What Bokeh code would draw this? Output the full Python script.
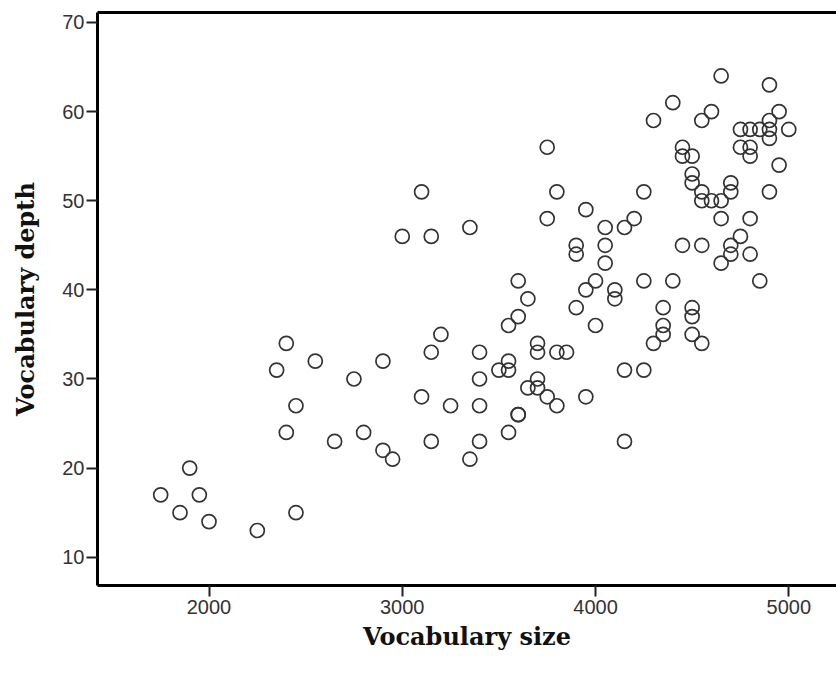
from bokeh.plotting import figure
from bokeh.models import Range1d, FixedTicker, LinearAxis, ColumnDataSource
from bokeh.embed import file_html
from bokeh.resources import INLINE

vocab_size = [
    1750, 1850, 1900, 1950, 2000, 2250, 2450,
    2350, 2400, 2400, 2450, 2550, 2650, 2750, 2800, 2900, 2900, 2950,
    3000, 3100, 3150, 3350,
    3100, 3150, 3150, 3200, 3250, 3350,
    3400, 3400, 3400, 3400,
    3500, 3550, 3550, 3550, 3550,
    3600, 3600, 3600, 3600,
    3650, 3650,
    3700, 3700, 3700, 3700,
    3750, 3750, 3750,
    3800, 3800, 3800,
    3850,
    3900, 3900, 3900,
    3950, 3950, 3950,
    4000, 4000,
    4050, 4050, 4050,
    4100, 4100,
    4150, 4150, 4150,
    4200,
    4250, 4250, 4250,
    4300, 4300,
    4350, 4350, 4350,
    4400, 4400,
    4450, 4450, 4450,
    4500, 4500, 4500, 4500, 4500, 4500,
    4550, 4550, 4550, 4550, 4550,
    4600, 4600,
    4650, 4650, 4650, 4650,
    4700, 4700, 4700, 4700,
    4750, 4750, 4750,
    4800, 4800, 4800, 4800, 4800,
    4850, 4850,
    4900, 4900, 4900, 4900, 4900,
    4950, 4950,
    5000,
]
vocab_depth = [
    17, 15, 20, 17, 14, 13, 15,
    31, 34, 24, 27, 32, 23, 30, 24, 32, 22, 21,
    46, 51, 46, 47,
    28, 33, 23, 35, 27, 21,
    33, 30, 27, 23,
    31, 36, 32, 31, 24,
    41, 37, 26, 26,
    39, 29,
    34, 33, 30, 29,
    56, 48, 28,
    51, 33, 27,
    33,
    45, 44, 38,
    49, 40, 28,
    41, 36,
    47, 45, 43,
    40, 39,
    47, 31, 23,
    48,
    51, 41, 31,
    59, 34,
    38, 36, 35,
    61, 41,
    56, 55, 45,
    55, 53, 52, 38, 37, 35,
    59, 51, 50, 45, 34,
    60, 50,
    64, 50, 48, 43,
    52, 51, 45, 44,
    58, 56, 46,
    58, 56, 55, 48, 44,
    58, 41,
    63, 59, 58, 57, 51,
    60, 54,
    58,
]

x_ticks = [2000, 3000, 4000, 5000]
y_ticks = [10, 20, 30, 40, 50, 60, 70]
x_title = "Vocabulary size"
y_title = "Vocabulary depth"

src = ColumnDataSource(data=dict(x=vocab_size, y=vocab_depth))

p = figure(width=836, height=675, output_backend="svg", toolbar_location=None,
           x_range=Range1d(1423, 5247), y_range=Range1d(6.83, 71.12),
           min_border_left=97, min_border_right=0, min_border_top=12,
           min_border_bottom=90, min_border=0)
p.outline_line_color = None
p.grid.visible = False
p.background_fill_color = "white"
p.border_fill_color = "white"

tick_font = "Liberation Sans"
for ax in (p.xaxis[0], p.yaxis[0]):
    ax.axis_line_width = 3
    ax.axis_line_color = "black"
    ax.major_tick_in = 0
    ax.major_tick_out = 11
    ax.major_tick_line_width = 2
    ax.major_tick_line_color = "#222222"
    ax.minor_tick_line_color = None
    ax.major_label_text_font = tick_font
    ax.major_label_text_font_size = "20px"
    ax.major_label_text_color = "#333333"
    ax.axis_label_text_font = "DejaVu Serif"
    ax.axis_label_text_font_style = "bold"
    ax.axis_label_text_font_size = "24px"
    ax.axis_label_text_color = "#111111"

p.xaxis[0].ticker = FixedTicker(ticks=x_ticks)
p.yaxis[0].ticker = FixedTicker(ticks=y_ticks)
p.xaxis[0].axis_label = x_title
p.yaxis[0].axis_label = y_title
p.xaxis[0].major_label_standoff = 3
p.xaxis[0].axis_label_standoff = 5
p.yaxis[0].major_label_standoff = 2
p.yaxis[0].axis_label_standoff = 19

top_axis = LinearAxis(ticker=FixedTicker(ticks=x_ticks), axis_line_width=3,
                      axis_line_color="black", major_tick_line_color=None,
                      major_tick_in=0, major_tick_out=0,
                      minor_tick_line_color=None, major_label_text_font_size="0px",
                      major_label_text_alpha=0, major_label_standoff=0)
p.add_layout(top_axis, "above")

p.scatter("x", "y", source=src, marker="circle", size=14, fill_color=None,
          line_color="#333333", line_width=1.7)

open("out.html", "w").write(file_html(p, INLINE))
